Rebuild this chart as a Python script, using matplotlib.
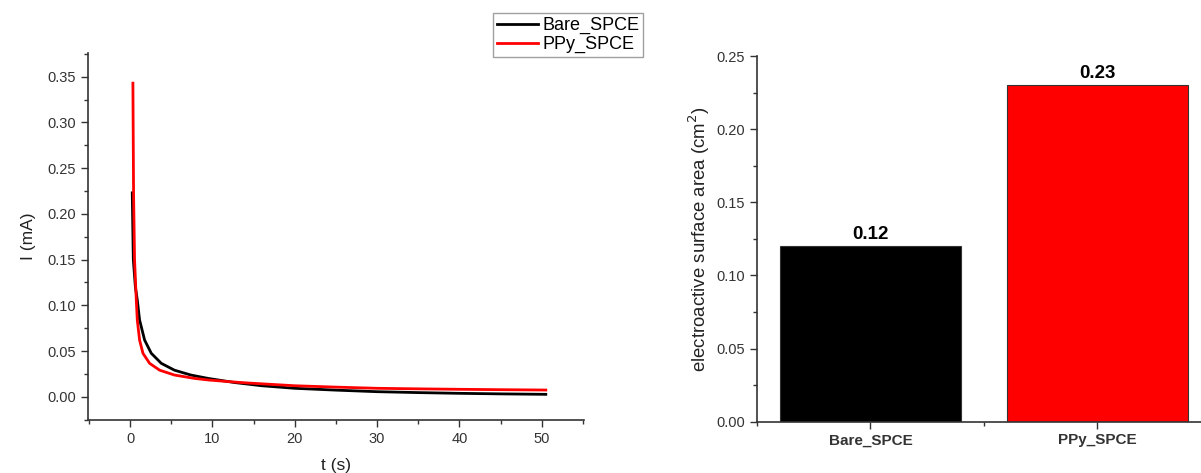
# Chronoamperometry curves and electroactive surface area bars

import matplotlib.pyplot as plt
from matplotlib.ticker import MultipleLocator

plt.rcParams['font.family'] = ['Liberation Sans', 'DejaVu Sans']

# current vs time
t_bare = [0.27, 0.4, 0.65, 0.88, 1.16, 1.77, 2.58, 3.8, 5.4, 7.4, 9.5, 12.7,
          16, 20, 25, 30, 35, 40, 45, 50.5]
i_bare = [0.223, 0.150, 0.12, 0.106, 0.084, 0.062, 0.0475, 0.0365, 0.029,
          0.0237, 0.020, 0.0155, 0.012, 0.0092, 0.0072, 0.0055, 0.0045,
          0.0037, 0.0031, 0.0026]

t_ppy = [0.35, 0.43, 0.55, 0.76, 0.88, 1.16, 1.57, 2.38, 3.6, 5.4, 7.85, 9.5,
         12, 14.3, 20, 25, 30, 35, 40, 45, 50.5]
i_ppy = [0.343, 0.223, 0.150, 0.106, 0.084, 0.062, 0.0475, 0.0365, 0.029,
         0.0237, 0.020, 0.0183, 0.0165, 0.015, 0.012, 0.0105, 0.0092, 0.0086,
         0.0081, 0.0077, 0.0073]

electrodes = ['Bare_SPCE', 'PPy_SPCE']
areas = [0.12, 0.23]
bar_colors = ['black', 'red']

fig = plt.figure(figsize=(12.01, 4.73), dpi=100)

# left: I vs t
ax1 = fig.add_axes([0.0733, 0.112, 0.4127, 0.776])
ax1.plot(t_bare, i_bare, color='black', lw=2, label='Bare_SPCE')
ax1.plot(t_ppy, i_ppy, color='red', lw=2, label='PPy_SPCE')
ax1.set_xlim(-5.1, 55.1)
ax1.set_ylim(-0.0255, 0.376)
ax1.xaxis.set_major_locator(MultipleLocator(10))
ax1.xaxis.set_minor_locator(MultipleLocator(5))
ax1.yaxis.set_major_locator(MultipleLocator(0.05))
ax1.yaxis.set_minor_locator(MultipleLocator(0.025))
ax1.yaxis.set_major_formatter(plt.FormatStrFormatter('%.2f'))
ax1.set_xlabel('t (s)', fontsize=12.5, color='#222222', labelpad=9)
ax1.set_ylabel('I (mA)', fontsize=12.5, color='#222222', labelpad=8)

# right: bars
ax2 = fig.add_axes([0.6303, 0.1085, 0.378, 0.7731])
x = range(len(electrodes))
bars = ax2.bar(x, areas, width=0.8, color=bar_colors, edgecolor='#333333', lw=0.8)
for b, v in zip(bars, areas):
    ax2.text(b.get_x() + b.get_width() / 2, v + 0.002, f'{v:.2f}',
             ha='center', va='bottom', fontsize=13.5, fontweight='bold')
ax2.set_xlim(-0.5, 1.5)
ax2.set_ylim(0, 0.25)
ax2.set_xticks(list(x))
ax2.set_xticklabels(electrodes, fontweight='bold', fontsize=11)
ax2.xaxis.set_minor_locator(MultipleLocator(0.5))
ax2.yaxis.set_major_locator(MultipleLocator(0.05))
ax2.yaxis.set_minor_locator(MultipleLocator(0.025))
ax2.yaxis.set_major_formatter(plt.FormatStrFormatter('%.2f'))
ax2.set_ylabel('electroactive surface area (cm$^2$)', fontsize=13.4,
               color='#222222', labelpad=3)

for ax in (ax1, ax2):
    ax.spines['top'].set_visible(False)
    ax.spines['right'].set_visible(False)
    for s in ('left', 'bottom'):
        ax.spines[s].set_color('#333333')
        ax.spines[s].set_linewidth(1.2)
    ax.tick_params(which='major', direction='out', length=5, width=1,
                   colors='#333333', labelsize=10.5, labelcolor='#333333')
    ax.tick_params(which='minor', direction='out', length=3, width=1,
                   colors='#333333')
ax2.tick_params(axis='x', labelsize=11)

fig.legend(loc='upper left', bbox_to_anchor=(0.4105, 0.972), fontsize=13,
           frameon=True, fancybox=False, edgecolor='#888888',
           handlelength=2.3, handletextpad=0.25, borderpad=0.2,
           labelspacing=0.1, borderaxespad=0)

plt.savefig('out.png', dpi=100)
plt.close(fig)
